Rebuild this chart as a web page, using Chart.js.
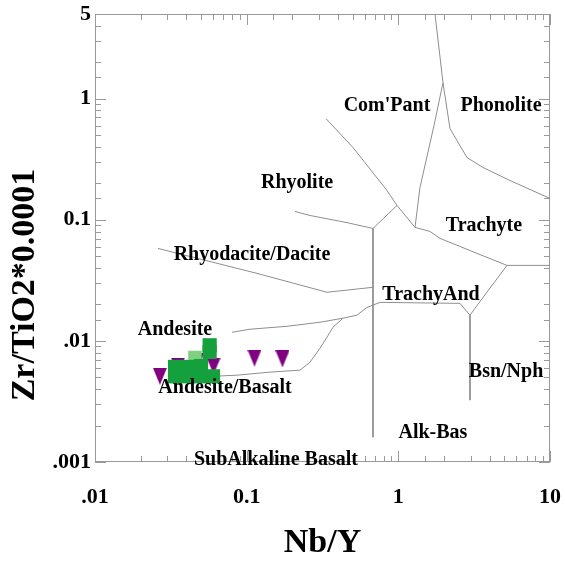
<!DOCTYPE html>
<html><head><meta charset="utf-8">
<script src="https://cdn.jsdelivr.net/npm/chart.js@4.4.1/dist/chart.umd.min.js"></script>
<style>html,body{margin:0;padding:0;background:#fff}#wrap{width:565px;height:563px}</style>
</head><body><div id="wrap"><canvas id="c" width="565" height="563"></canvas></div>
<script>
// ---- axis ticks ----
const xTickValues = [0.01, 0.1, 1, 10];
const xTickLabels = ['.01', '0.1', '1', '10'];
const yTickValues = [0.001, 0.01, 0.1, 1, 5];
const yTickLabels = ['.001', '.01', '0.1', '1', '5'];

// ---- samples [Nb/Y, Zr/TiO2*0.0001] ----
const samplesGreen = [
  [0.0337, 0.0051], [0.041, 0.0051], [0.05, 0.0051], [0.06, 0.0051],
  [0.0337, 0.0061], [0.041, 0.0061], [0.05, 0.0062],
  [0.057, 0.0081], [0.057, 0.0092]
];
const samplesLightGreen = [[0.0456, 0.0073]];
const samplesPurple = [
  [0.0268, 0.0051], [0.0352, 0.0062], [0.047, 0.0067], [0.0605, 0.0062],
  [0.1126, 0.0072], [0.1722, 0.0071]
];

// ---- field boundaries (Winchester & Floyd) ----
const bComPantPhonolite = [[1.745, 5], [1.97, 1.355], [1.718, 0.599], [1.389, 0.1847], [1.288, 0.0865]];
const bPhonoliteTrachyte = [[1.97, 1.355], [2.191, 0.566], [2.836, 0.3265], [3.615, 0.2701], [5.446, 0.211], [10, 0.15]];
const bRhyoliteComPant = [[0.3335, 0.684], [0.5026, 0.3948], [0.8419, 0.1745], [0.9799, 0.1313], [1.288, 0.0865]];
const bRhyoliteTrachyAnd = [[0.9799, 0.1313], [0.6806, 0.0848], [0.6806, 0.0016]];
const bTrachyteLower = [[1.288, 0.0865], [1.617, 0.0801], [1.883, 0.0702], [3.301, 0.0528], [5.204, 0.042], [10, 0.042]];
const bBsnNph = [[5.204, 0.042], [3.203, 0.0186], [2.968, 0.0163], [2.968, 0.00324]];
const bAndesiteUpper = [[0.08, 0.01178], [0.1052, 0.01248], [0.1845, 0.0132], [0.3045, 0.01425], [0.4316, 0.0154], [0.5339, 0.0163], [0.6216, 0.0189], [0.757, 0.0208], [2.55, 0.0204], [2.968, 0.0163]];
const bRhyodaciteLower = [[0.026, 0.058], [0.117, 0.0361], [0.3385, 0.0252], [0.6806, 0.0277]];
const bRhyodaciteUpper = [[0.2083, 0.1171], [0.2616, 0.1085], [0.4518, 0.0951], [0.6806, 0.0848]];
const bAndesiteBasalt = [[0.4316, 0.0154], [0.3709, 0.01296], [0.3385, 0.01072], [0.3045, 0.0087], [0.2616, 0.00667], [0.2247, 0.00573], [0.1425, 0.00552], [0.0864, 0.00521], [0.0618, 0.00511]];
const boundaries = [bComPantPhonolite, bPhonoliteTrachyte, bRhyoliteComPant, bRhyoliteTrachyAnd, bTrachyteLower, bBsnNph, bAndesiteUpper, bRhyodaciteLower, bRhyodaciteUpper, bAndesiteBasalt];

// ---- field names and their anchor points (data coords) ----
const fieldNames = ["Com'Pant", 'Phonolite', 'Rhyolite', 'Trachyte', 'Rhyodacite/Dacite', 'TrachyAnd', 'Andesite', 'Andesite/Basalt', 'Bsn/Nph', 'Alk-Bas', 'SubAlkaline Basalt'];
const fieldAnchors = [[0.842, 0.876], [4.75, 0.876], [0.215, 0.203], [3.67, 0.0898], [0.1084, 0.0518], [1.642, 0.0238], [0.0337, 0.01224], [0.072, 0.00407], [5.13, 0.00552], [1.69, 0.00173], [0.156, 0.00104]];

const xTitle = 'Nb/Y';
const yTitle = 'Zr/TiO2*0.0001';

function toXY(arr) { return arr.map(p => ({ x: p[0], y: p[1] })); }
function labelFor(v, vals, labels) {
  for (let i = 0; i < vals.length; i++) {
    if (Math.abs(Math.log10(v) - Math.log10(vals[i])) < 1e-6) return labels[i];
  }
  return '';
}
function isDecade(v) { const l = Math.log10(v); return Math.abs(l - Math.round(l)) < 1e-6; }
function triangleDown(w, h, color) {
  const c = document.createElement('canvas'); c.width = w; c.height = h;
  const g = c.getContext('2d'); g.fillStyle = color;
  g.beginPath(); g.moveTo(0, 0); g.lineTo(w, 0); g.lineTo(w / 2, h); g.closePath(); g.fill();
  return c;
}

const SERIF = '"Liberation Serif", "Times New Roman", serif';
const lineColor = '#8e8e8e';

const datasets = [];
boundaries.forEach(b => datasets.push({
  data: toXY(b), showLine: true, borderColor: lineColor, borderWidth: 1,
  pointRadius: 0, fill: false, tension: 0, order: 5
}));
datasets.push({ data: toXY(samplesPurple), pointStyle: triangleDown(14, 17, '#800080'), pointRadius: 9, showLine: false, order: 4 });
datasets.push({ data: toXY(samplesLightGreen), pointStyle: 'rect', pointRadius: 9.5, backgroundColor: '#7fd07f', borderWidth: 0, showLine: false, order: 3 });
datasets.push({ data: toXY(samplesGreen), pointStyle: 'rect', pointRadius: 10, backgroundColor: '#14a03c', borderWidth: 0, showLine: false, order: 2 });

const framePlugin = {
  id: 'frame',
  beforeDatasetsDraw(chart) {
    const { ctx, chartArea: a, scales: { x, y } } = chart;
    ctx.save();
    ctx.strokeStyle = '#9a9a9a'; ctx.lineWidth = 1;
    ctx.strokeRect(a.left + 0.5, a.top + 0.5, a.right - a.left - 1, a.bottom - a.top - 1);
    ctx.beginPath();
    x.ticks.forEach(t => {
      const p = Math.round(x.getPixelForValue(t.value)) + 0.5;
      const L = isDecade(t.value) ? 11 : 6;
      ctx.moveTo(p, a.bottom); ctx.lineTo(p, a.bottom - L);
      ctx.moveTo(p, a.top); ctx.lineTo(p, a.top + L);
    });
    y.ticks.forEach(t => {
      const p = Math.round(y.getPixelForValue(t.value)) + 0.5;
      const L = isDecade(t.value) ? 11 : 6;
      ctx.moveTo(a.left, p); ctx.lineTo(a.left + L, p);
      ctx.moveTo(a.right, p); ctx.lineTo(a.right - L, p);
    });
    ctx.stroke();
    ctx.restore();
  }
};
const labelPlugin = {
  id: 'fieldLabels',
  afterDatasetsDraw(chart) {
    const { ctx, scales: { x, y } } = chart;
    ctx.save();
    ctx.font = 'bold 20px ' + SERIF; ctx.fillStyle = '#000';
    ctx.textAlign = 'center'; ctx.textBaseline = 'middle';
    fieldNames.forEach((t, i) => ctx.fillText(t, x.getPixelForValue(fieldAnchors[i][0]), y.getPixelForValue(fieldAnchors[i][1])));
    // vertical axis title
    ctx.font = 'bold 34px ' + SERIF;
    ctx.translate(25, 285); ctx.rotate(-Math.PI / 2);
    ctx.fillText(yTitle, 0, 0);
    ctx.restore();
  }
};

new Chart(document.getElementById('c'), {
  type: 'scatter',
  data: { datasets },
  options: {
    responsive: false, animation: false, devicePixelRatio: 1,
    layout: { padding: { top: 14, right: 15, bottom: 0, left: 0 } },
    plugins: { legend: { display: false }, tooltip: { enabled: false } },
    scales: {
      x: {
        type: 'logarithmic', min: 0.01, max: 10, position: 'bottom',
        grid: { display: false, drawTicks: false }, border: { display: false },
        ticks: { autoSkip: false, maxRotation: 0, padding: 22, color: '#000',
          font: { family: SERIF, size: 22, weight: 'bold' },
          callback: v => labelFor(v, xTickValues, xTickLabels) },
        title: { display: true, text: xTitle, color: '#000', font: { family: SERIF, size: 34, weight: 'bold', lineHeight: 1 }, padding: { top: 0, bottom: 3 } },
        afterFit: s => { s.height = 101; s.paddingLeft = 0; s.paddingRight = 0; }
      },
      y: {
        type: 'logarithmic', min: 0.001, max: 5,
        grid: { display: false, drawTicks: false }, border: { display: false },
        ticks: { autoSkip: false, padding: 4, color: '#000',
          font: { family: SERIF, size: 22, weight: 'bold' },
          callback: v => labelFor(v, yTickValues, yTickLabels) },
        afterFit: s => { s.width = 95; s.paddingTop = 0; s.paddingBottom = 0; }
      }
    }
  },
  plugins: [framePlugin, labelPlugin]
});
</script>
</body></html>
